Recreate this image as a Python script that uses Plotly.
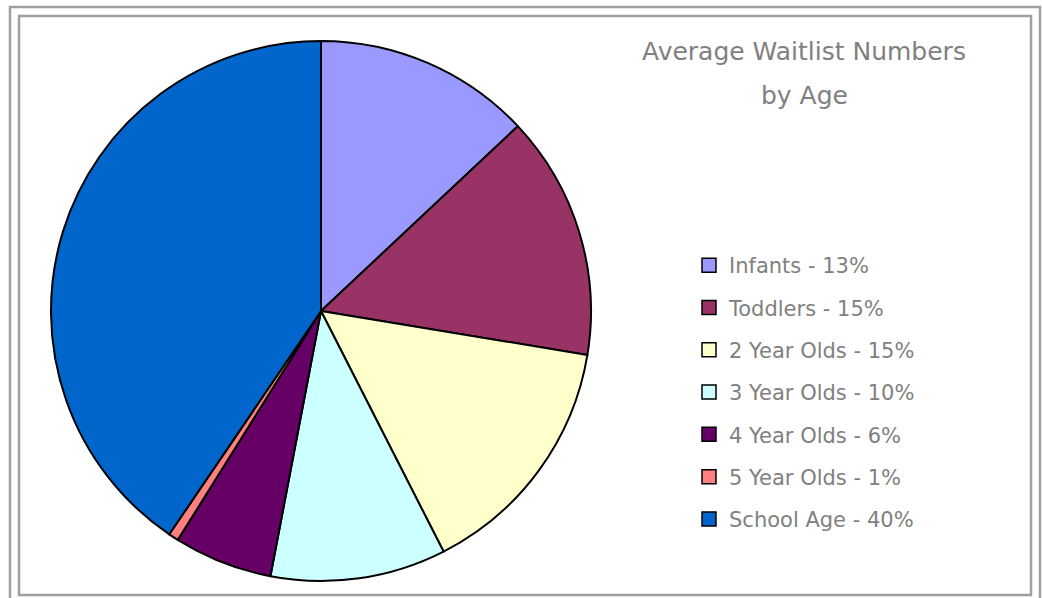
import plotly.graph_objects as go

categories = ["Infants", "Toddlers", "2 Year Olds", "3 Year Olds", "4 Year Olds", "5 Year Olds", "School Age"]
values = [13.0, 14.6, 14.9, 10.5, 5.9, 0.6, 40.5]
legend_pct = ["13%", "15%", "15%", "10%", "6%", "1%", "40%"]
colors = ["#9999FF", "#993366", "#FFFFCC", "#CCFFFF", "#660066", "#FF8080", "#0066CC"]
title_lines = ["Average Waitlist Numbers", "by Age"]

W, H = 1042, 598
cx, cy, r = 321, 311, 270
font_family = "DejaVu Sans, Noto Sans, sans-serif"

fig = go.Figure()
fig.add_trace(go.Pie(
    labels=categories,
    values=values,
    sort=False,
    direction="clockwise",
    rotation=0,
    textinfo="none",
    showlegend=False,
    marker=dict(colors=colors, line=dict(color="black", width=2)),
    domain=dict(x=[(cx - r) / W, (cx + r) / W], y=[1 - (cy + r) / H, 1 - (cy - r) / H]),
    hoverinfo="label+percent",
))

# legend entries
for c, p, col in zip(categories, legend_pct, colors):
    fig.add_trace(go.Scatter(
        x=[None], y=[None], mode="markers",
        name=f"{c} - {p}", legendgroup=c,
        marker=dict(symbol="square", size=14, color=col, line=dict(color="black", width=1.5)),
        hoverinfo="skip",
    ))

annotations = []
for i, t in enumerate(title_lines):
    annotations.append(dict(
        text=t, xref="paper", yref="paper",
        x=804 / W, xanchor="center",
        y=1 - (52 + 43 * i) / H, yanchor="middle",
        showarrow=False,
        font=dict(size=25, color="#808080", family=font_family),
    ))

fig.update_layout(
    width=W, height=H,
    margin=dict(l=0, r=0, t=0, b=0),
    paper_bgcolor="white",
    plot_bgcolor="white",
    font=dict(family=font_family, color="#808080"),
    xaxis=dict(visible=False),
    yaxis=dict(visible=False),
    annotations=annotations,
    legend=dict(
        x=689 / W, xanchor="left",
        y=1 - 245 / H, yanchor="top",
        font=dict(size=21, color="#808080", family=font_family),
        tracegroupgap=12,
        bgcolor="rgba(0,0,0,0)",
    ),
    shapes=[
        dict(type="rect", xref="paper", yref="paper",
             x0=10 / W, x1=1040 / W, y0=1 - 606 / H, y1=1 - 7 / H,
             line=dict(color="#a0a0a0", width=2.5)),
        dict(type="rect", xref="paper", yref="paper",
             x0=19 / W, x1=1031 / W, y0=1 - 595 / H, y1=1 - 16 / H,
             line=dict(color="#a0a0a0", width=2.5)),
    ],
)

fig.write_html("out.html", config={"displayModeBar": False},
               post_script="document.body.style.margin='0';")
